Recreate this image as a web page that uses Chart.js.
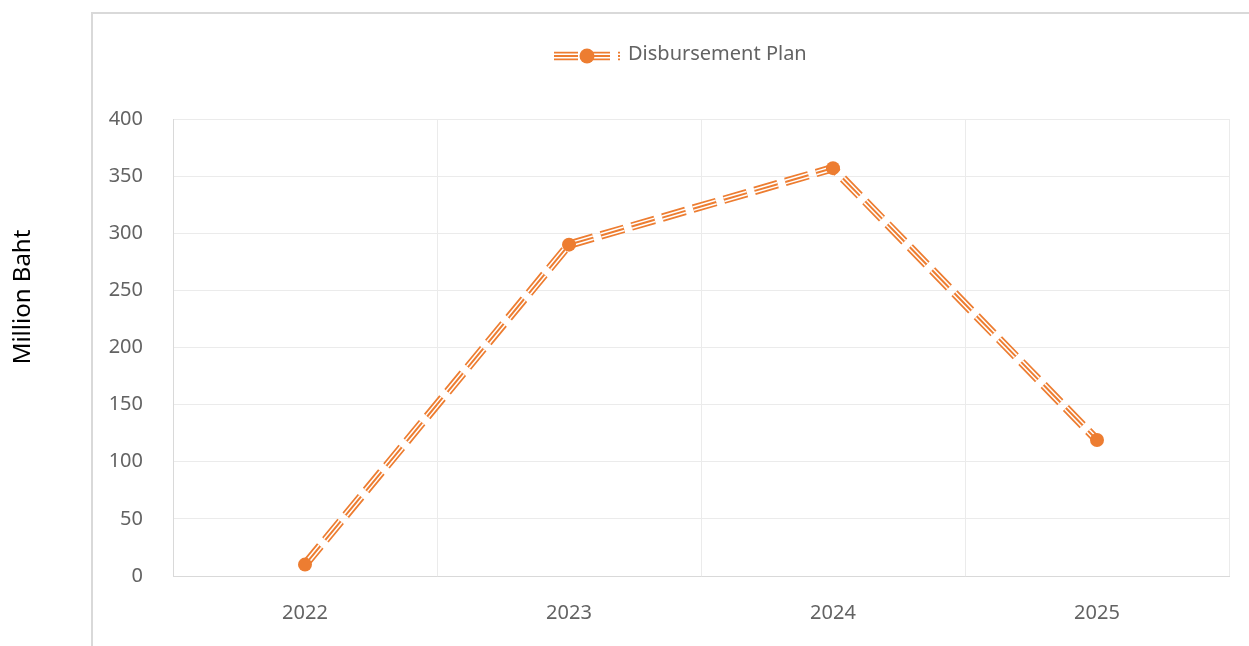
<!DOCTYPE html>
<html>
<head>
<meta charset="utf-8">
<script src="https://cdn.jsdelivr.net/npm/chart.js@4"></script>
<style>
  html, body { margin: 0; padding: 0; background: #ffffff; }
  #wrap { width: 1249px; height: 646px; position: relative; }
</style>
</head>
<body>
<div id="wrap"><canvas id="c" width="1249" height="646"></canvas></div>
<script>
// ---- data ----
const years = ['2022', '2023', '2024', '2025'];
const disbursementPlan = [10, 290, 357, 119];
const seriesName = 'Disbursement Plan';
const yAxisTitle = 'Million Baht';
const yMin = 0;
const yMax = 400;
const yStep = 50;

// ---- styles ----
const ORANGE = '#ED7D31';
const TEXT_GRAY = '#636363';
const FONT = '"Noto Sans", "Open Sans", sans-serif';
const DASH = [24, 8];

const decorPlugin = {
  id: 'decor',
  beforeDraw(chart) {
    const ctx = chart.ctx;
    ctx.save();
    ctx.fillStyle = '#ffffff';
    ctx.fillRect(0, 0, chart.width, chart.height);
    // outer chart border
    ctx.strokeStyle = '#d9d9d9';
    ctx.lineWidth = 2;
    ctx.beginPath();
    ctx.moveTo(92, chart.height + 2);
    ctx.lineTo(92, 13);
    ctx.lineTo(chart.width + 2, 13);
    ctx.stroke();
    ctx.restore();
  },
  afterDraw(chart) {
    const ctx = chart.ctx;
    ctx.save();
    // y axis title
    ctx.translate(23, 297);
    ctx.rotate(-Math.PI / 2);
    ctx.fillStyle = '#000000';
    ctx.font = '24px ' + FONT;
    ctx.textAlign = 'center';
    ctx.textBaseline = 'middle';
    ctx.fillText(yAxisTitle, 0, 0);
    ctx.restore();

    // legend
    ctx.save();
    const ly = 56;
    const lx0 = 554, lx1 = 620;
    const layers = [[8.5, ORANGE], [5, '#ffffff'], [2, ORANGE]];
    ctx.setLineDash(DASH);
    ctx.lineCap = 'butt';
    for (const [w, col] of layers) {
      ctx.strokeStyle = col;
      ctx.lineWidth = w;
      ctx.beginPath();
      ctx.moveTo(lx0, ly);
      ctx.lineTo(lx1, ly);
      ctx.stroke();
    }
    ctx.setLineDash([]);
    ctx.fillStyle = ORANGE;
    ctx.beginPath();
    ctx.arc(587, ly, 7.5, 0, Math.PI * 2);
    ctx.fill();
    ctx.fillStyle = TEXT_GRAY;
    ctx.font = '20px ' + FONT;
    ctx.textAlign = 'left';
    ctx.textBaseline = 'middle';
    ctx.fillText(chart.data.datasets[0].label, 628, ly - 2);
    ctx.restore();
  }
};

const common = {
  data: disbursementPlan,
  borderDash: DASH,
  borderCapStyle: 'butt',
  tension: 0,
  fill: false
};

new Chart(document.getElementById('c'), {
  type: 'line',
  data: {
    labels: years,
    datasets: [
      Object.assign({}, common, {
        label: seriesName,
        borderColor: ORANGE,
        borderWidth: 2,
        pointRadius: 7,
        pointBackgroundColor: ORANGE,
        pointBorderColor: ORANGE,
        pointBorderWidth: 0
      }),
      Object.assign({}, common, {
        label: seriesName + ' (inner)',
        borderColor: '#ffffff',
        borderWidth: 5,
        pointRadius: 0
      }),
      Object.assign({}, common, {
        label: seriesName + ' (outer)',
        borderColor: ORANGE,
        borderWidth: 8.5,
        pointRadius: 0
      })
    ]
  },
  options: {
    responsive: false,
    devicePixelRatio: 1,
    animation: false,
    layout: { padding: { left: 0, right: 20, top: 119, bottom: 0 } },
    plugins: {
      legend: { display: false },
      tooltip: { enabled: false },
      title: { display: false }
    },
    scales: {
      x: {
        offset: true,
        grid: { offset: true, color: '#ebebeb', lineWidth: 1, drawTicks: false },
        border: { display: true, color: '#d9d9d9', width: 1 },
        ticks: { color: TEXT_GRAY, font: { family: FONT, size: 20 }, padding: 25, maxRotation: 0 },
        afterFit(s) { s.height = 70; }
      },
      y: {
        min: yMin,
        max: yMax,
        ticks: { stepSize: yStep, color: TEXT_GRAY, font: { family: FONT, size: 20 }, padding: 30 },
        grid: { color: '#ebebeb', lineWidth: 1, drawTicks: false },
        border: { display: true, color: '#d9d9d9', width: 1 },
        afterFit(s) { s.width = 173; }
      }
    }
  },
  plugins: [decorPlugin]
});
</script>
</body>
</html>
